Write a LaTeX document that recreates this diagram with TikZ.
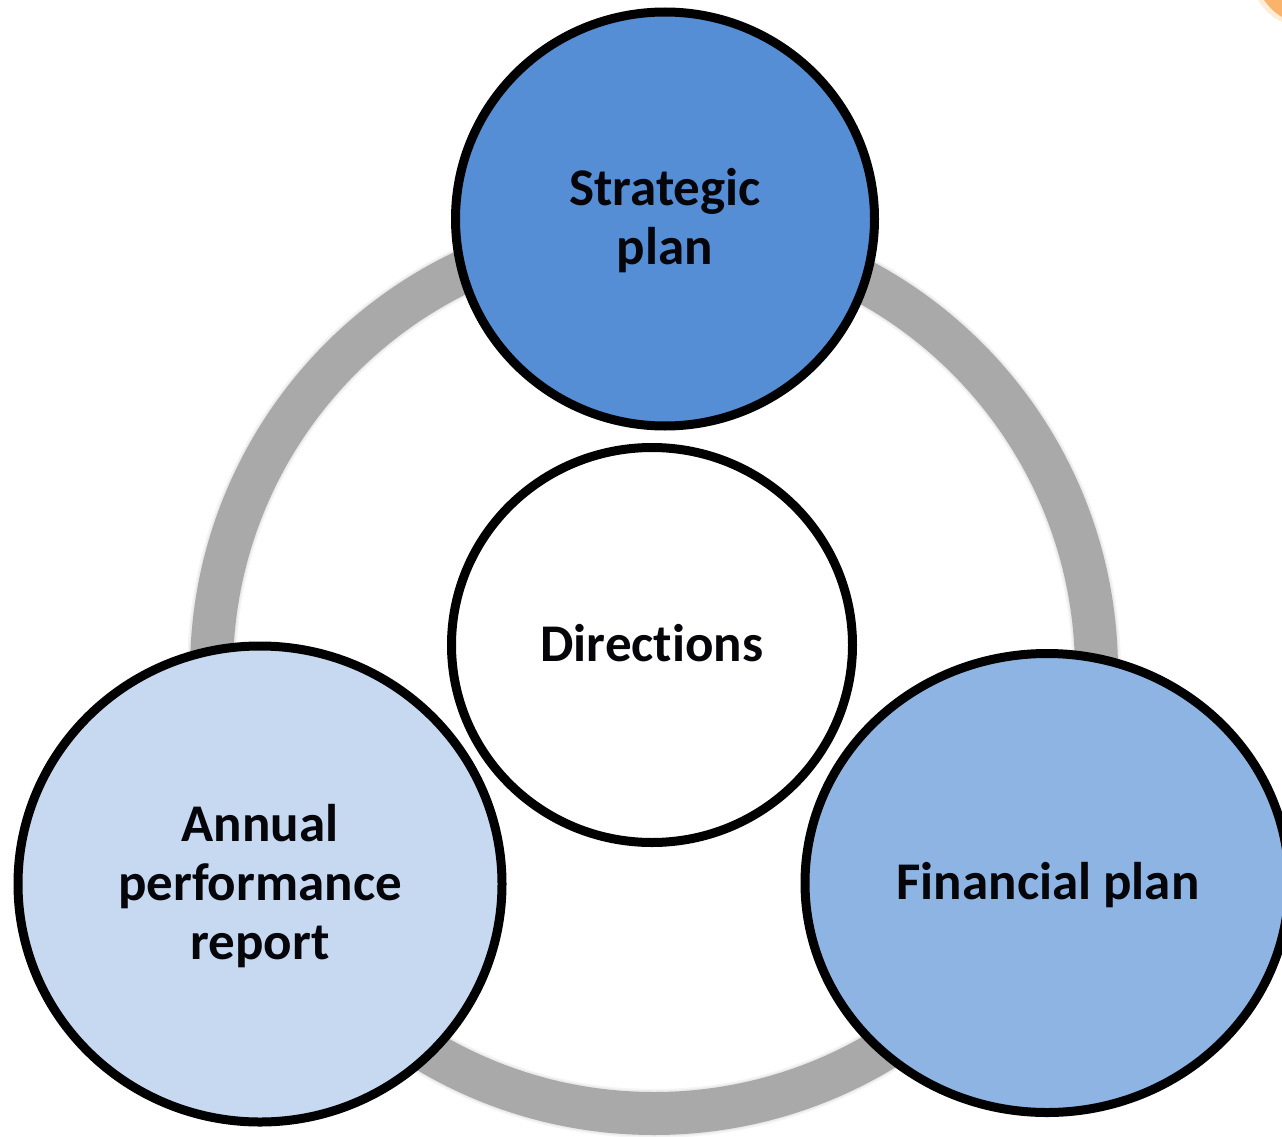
\documentclass[tikz,border=0pt]{standalone}
\usepackage{fontspec}
\setmainfont{Carlito}[Ligatures=NoCommon]
\usetikzlibrary{shapes.geometric}
\definecolor{ringgrey}{HTML}{A9A9A9}
\definecolor{stratblue}{HTML}{558ED5}
\definecolor{finblue}{HTML}{8EB4E3}
\definecolor{annblue}{HTML}{C6D9F1}
\definecolor{cornerorange}{HTML}{F9B36B}
\definecolor{inktext}{HTML}{05050A}
\tikzset{
  x=1pt,y=-1pt,
  bubble/.style={ellipse,draw=black,line width=9pt,inner sep=0pt,outer sep=0pt},
  bubbletext/.style={inner sep=0pt,align=center,font=\fontsize{53}{59}\selectfont\bfseries,text=inktext},
  ringband/.style={circle,draw=ringgrey,line width=43pt,inner sep=0pt,outer sep=0pt,minimum size=885pt},
  ringglow/.style={circle,draw=black,draw opacity=.04,inner sep=0pt,outer sep=0pt,minimum size=885pt}
}
\begin{document}
\begin{tikzpicture}
\useasboundingbox (0,0) rectangle (1282,1137);
\clip (0,0) rectangle (1282,1137);
\fill[white] (0,0) rectangle (1282,1137);
% orange corner
\fill[cornerorange!25] (1258,0) .. controls (1265,11) and (1273,18) .. (1282,22) -- (1282,0) -- cycle;
\fill[cornerorange] (1264,0) .. controls (1269,7) and (1275,13) .. (1282,17) -- (1282,0) -- cycle;
% ring with soft edge
\node[ringglow,line width=49pt] (glowa) at (654,671) {};
\node[ringglow,line width=46pt] (glowb) at (654,671) {};
\node[ringband] (ring) at (654,671) {};
% bubbles
\node[bubble,fill=stratblue,minimum width=419pt,minimum height=414pt] (strategic) at (665,219) {};
\node[bubbletext] (strategiclabel) at (665,221) {Strategic\\plan};
\node[bubble,fill=white,minimum width=401pt,minimum height=395pt] (directions) at (652,645) {};
\node[bubbletext] (directionslabel) at (652,643) {Directions};
\node[bubble,fill=annblue,minimum width=484pt,minimum height=476pt] (annual) at (260,884) {};
\node[bubbletext] (annuallabel) at (260,886) {Annual\\performance\\report};
\node[bubble,fill=finblue,minimum width=484pt,minimum height=459pt] (financial) at (1047,883) {};
\node[bubbletext] (financiallabel) at (1048,885) {Financial plan};
\end{tikzpicture}
\end{document}
